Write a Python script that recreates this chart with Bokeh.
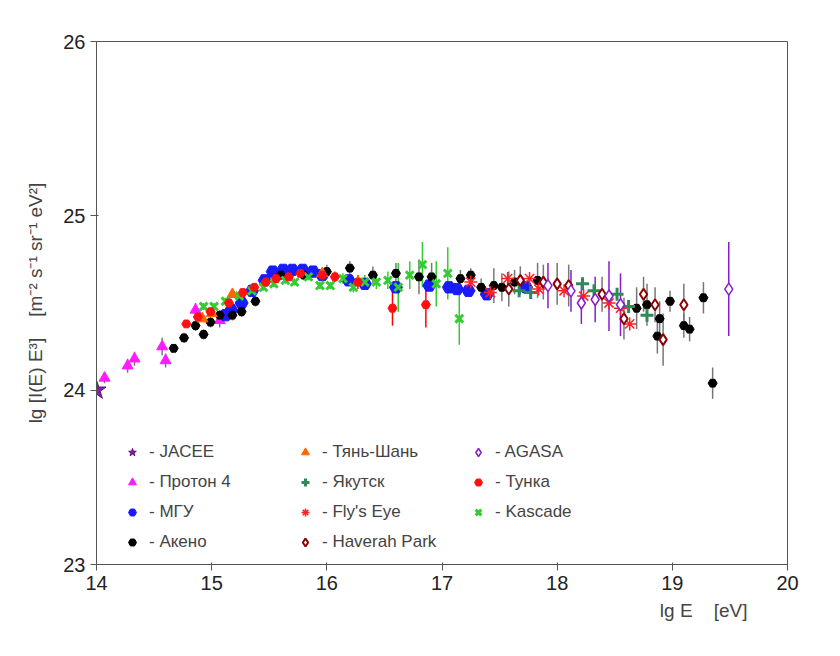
from bokeh.plotting import figure
from bokeh.models import Legend, LegendItem, Title, Whisker, ColumnDataSource, FixedTicker
from bokeh.embed import file_html
from bokeh.resources import INLINE

jacee_x = [14.0]; jacee_y = [24.0]; jacee_e = [0.02]
proton_x = [14.07, 14.27, 14.33, 14.57, 14.60, 14.86, 15.07]
proton_y = [24.07, 24.14, 24.18, 24.25, 24.17, 24.46, 24.40]
proton_e = [0.03, 0.04, 0.04, 0.05, 0.04, 0.04, 0.04]
msu_x = [15.12, 15.17, 15.26, 15.35, 15.46, 15.53, 15.62, 15.70, 15.79, 15.88, 15.96, 16.19, 16.33, 16.60, 16.89, 17.06, 17.13, 17.23, 17.39, 17.73]
msu_y = [24.43, 24.46, 24.50, 24.57, 24.63, 24.68, 24.69, 24.69, 24.69, 24.68, 24.66, 24.63, 24.61, 24.59, 24.60, 24.59, 24.58, 24.57, 24.55, 24.59]
akeno_x = [14.67, 14.76, 14.86, 14.93, 14.99, 15.07, 15.18, 15.26, 15.38, 15.60, 15.80, 16.00, 16.20, 16.40, 16.60, 16.80, 16.91, 17.16, 17.25, 17.34, 17.45, 17.52, 17.63, 17.83, 18.69, 18.78, 18.89, 18.87, 18.98, 19.10, 19.15, 19.27, 19.35]
akeno_y = [24.24, 24.30, 24.37, 24.32, 24.39, 24.43, 24.43, 24.45, 24.51, 24.66, 24.66, 24.68, 24.70, 24.66, 24.67, 24.65, 24.65, 24.64, 24.66, 24.59, 24.60, 24.59, 24.62, 24.63, 24.47, 24.49, 24.41, 24.31, 24.51, 24.37, 24.35, 24.53, 24.04]
akeno_e = [0.02, 0.03, 0.03, 0.03, 0.03, 0.03, 0.03, 0.03, 0.03, 0.03, 0.03, 0.04, 0.04, 0.05, 0.06, 0.1, 0.08, 0.05, 0.04, 0.05, 0.1, 0.08, 0.07, 0.1, 0.12, 0.12, 0.1, 0.1, 0.06, 0.07, 0.07, 0.09, 0.09]
tunka_x = [14.78, 14.88, 14.99, 15.15, 15.27, 15.37, 15.47, 15.56, 15.67, 15.77, 15.96, 16.07, 16.27, 16.57, 16.86]
tunka_y = [24.38, 24.42, 24.45, 24.50, 24.56, 24.59, 24.62, 24.64, 24.65, 24.67, 24.66, 24.65, 24.62, 24.47, 24.49]
tunka_e = [0.02, 0.02, 0.02, 0.02, 0.02, 0.02, 0.02, 0.02, 0.02, 0.02, 0.02, 0.03, 0.04, 0.1, 0.13]
tian_x = [14.92, 15.00, 15.18, 15.96, 16.27]
tian_y = [24.41, 24.44, 24.55, 24.67, 24.62]
kas_x = [14.93, 15.02, 15.12, 15.24, 15.35, 15.45, 15.54, 15.64, 15.72, 15.84, 15.94, 16.03, 16.14, 16.23, 16.33, 16.43, 16.53, 16.62, 16.72, 16.83, 16.95, 17.05, 17.15]
kas_y = [24.48, 24.48, 24.51, 24.54, 24.57, 24.59, 24.61, 24.63, 24.62, 24.65, 24.60, 24.60, 24.64, 24.59, 24.62, 24.62, 24.63, 24.59, 24.66, 24.72, 24.61, 24.67, 24.41]
kas_e = [0.02, 0.02, 0.02, 0.02, 0.02, 0.02, 0.02, 0.02, 0.02, 0.02, 0.02, 0.02, 0.03, 0.03, 0.04, 0.04, 0.05, 0.14, 0.08, 0.13, 0.13, 0.15, 0.15]
yak_x = [17.67, 17.77, 18.22, 18.32, 18.52, 18.62, 18.78]
yak_y = [24.57, 24.56, 24.61, 24.57, 24.55, 24.48, 24.43]
fly_x = [17.25, 17.42, 17.57, 17.76, 17.84, 18.06, 18.23, 18.45, 18.55, 18.63]
fly_y = [24.62, 24.56, 24.64, 24.64, 24.58, 24.57, 24.54, 24.50, 24.47, 24.38]
hp_x = [17.58, 17.68, 17.88, 18.00, 18.10, 18.39, 18.58, 18.75, 18.85, 18.92, 19.10]
hp_y = [24.58, 24.63, 24.62, 24.61, 24.60, 24.55, 24.41, 24.55, 24.49, 24.29, 24.49]
hp_e = [0.1, 0.08, 0.1, 0.12, 0.12, 0.1, 0.12, 0.1, 0.1, 0.15, 0.12]
ag_x = [17.92, 18.12, 18.21, 18.33, 18.45, 18.55, 19.49]
ag_y = [24.60, 24.57, 24.50, 24.52, 24.54, 24.49, 24.58]
ag_e = [0.13, 0.12, 0.12, 0.13, 0.2, 0.18, 0.27]

p = figure(frame_width=691, frame_height=523, x_range=(14, 20), y_range=(23, 26),
           output_backend="svg", toolbar_location=None,
           min_border_left=96, min_border_right=37, min_border_top=41, min_border_bottom=10)
p.xgrid.visible = False; p.ygrid.visible = False
p.outline_line_color = "#555555"
for ax in (p.xaxis[0], p.yaxis[0]):
    ax.axis_line_color = "#555555"
    ax.major_tick_line_color = "#555555"
    ax.minor_tick_line_color = None
    ax.major_label_text_font = "Liberation Sans"
    ax.major_label_text_font_size = "20px"
    ax.major_label_text_color = "#222222"
p.xaxis.ticker = FixedTicker(ticks=[14, 15, 16, 17, 18, 19, 20])
p.yaxis.ticker = FixedTicker(ticks=[23, 24, 25, 26])
p.yaxis.axis_label = "lg [I(E) E³]\u00a0\u00a0\u00a0\u00a0[m⁻² s⁻¹ sr⁻¹ eV²]"
p.yaxis.axis_label_text_font = "Liberation Sans"
p.yaxis.axis_label_text_font_style = "normal"
p.yaxis.axis_label_text_font_size = "19px"
p.yaxis.axis_label_standoff = 14
p.add_layout(Title(text="lg E\u00a0\u00a0\u00a0\u00a0[eV]", align="right", text_font="Liberation Sans",
                   text_font_size="19px", text_font_style="normal", offset=40), "below")

def err(x, y, e, color="#777777"):
    src = ColumnDataSource(dict(x=x, lo=[a - b for a, b in zip(y, e)], hi=[a + b for a, b in zip(y, e)]))
    w = Whisker(base="x", lower="lo", upper="hi", source=src, line_color=color, line_width=1.5)
    w.upper_head = None; w.lower_head = None
    p.add_layout(w)

err(akeno_x, akeno_y, akeno_e)
err(hp_x, hp_y, hp_e)
err(tunka_x, tunka_y, tunka_e, "red")
err(kas_x, kas_y, kas_e, "#33cc33")
err(ag_x, ag_y, ag_e, "#8a1ccc")
err(proton_x, proton_y, proton_e)

r_j = p.scatter(jacee_x, jacee_y, marker="star", size=20, color="#8b1fae", line_color="#5a0a70")
r_p = p.scatter(proton_x, proton_y, marker="triangle", size=11, color="#ff1aff")
r_m = p.scatter(msu_x, msu_y, marker="hex", size=13, color="#1a1aff")
r_a = p.scatter(akeno_x, akeno_y, marker="hex", size=9, color="black")
r_t = p.scatter(tian_x, tian_y, marker="triangle", size=11, color="#ff6600")
r_y = p.scatter(yak_x, yak_y, marker="cross", size=13, line_color="#2e8b57", line_width=3)
r_f = p.scatter(fly_x, fly_y, marker="asterisk", size=13, line_color="#ff2020", line_width=1.5)
r_h = p.scatter(hp_x, hp_y, marker="diamond", size=11, fill_color="white", line_color="#8b0000", line_width=2)
r_g = p.scatter(ag_x, ag_y, marker="diamond", size=12, fill_color="white", line_color="#8a1ccc", line_width=1.5)
r_k = p.scatter(kas_x, kas_y, marker="x", size=11, line_color="#33cc33", line_width=3)
r_u = p.scatter(tunka_x, tunka_y, marker="hex", size=9, color="#ff1010")

items = [("- JACEE", r_j), ("- Протон 4", r_p), ("- МГУ", r_m), ("- Акено", r_a),
         ("- Тянь-Шань", r_t), ("- Якутск", r_y), ("- Fly's Eye", r_f), ("- Haverah Park", r_h),
         ("- AGASA", r_g), ("- Тунка", r_u), ("- Kascade", r_k)]
leg = Legend(items=[LegendItem(label=l, renderers=[r]) for l, r in items], ncols=3,
             location=(25, 12), orientation="vertical", border_line_color=None,
             background_fill_alpha=0, label_text_font="Liberation Sans",
             label_text_font_size="17px", spacing=10, glyph_width=22, label_standoff=6,
             label_width=135, margin=0, padding=0)
p.add_layout(leg, "center")

open("out.html", "w").write(file_html(p, INLINE))
